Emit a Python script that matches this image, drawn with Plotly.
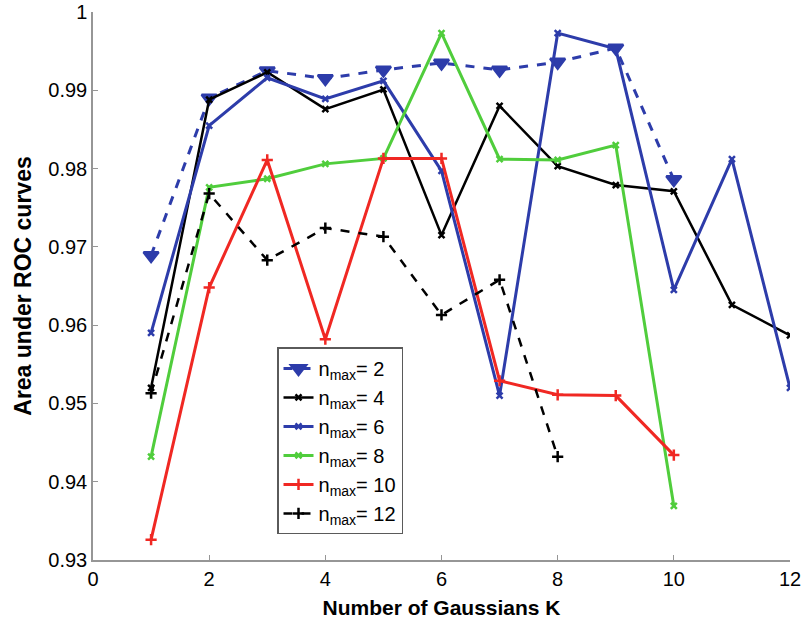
import plotly.graph_objects as go

# Area under ROC curves vs number of Gaussians K, for each n_max
k_short = [1, 2, 3, 4, 5, 6, 7, 8, 9, 10]
k_long = [1, 2, 3, 4, 5, 6, 7, 8, 9, 10, 11, 12]
k_eight = [1, 2, 3, 4, 5, 6, 7, 8]

auc_n2 = [0.9689, 0.9890, 0.9925, 0.9915, 0.9926, 0.9935, 0.9926, 0.9936, 0.9954, 0.9786]
auc_n4 = [0.9520, 0.9888, 0.9923, 0.9876, 0.9901, 0.9715, 0.9880, 0.9803, 0.9779, 0.9771, 0.9626, 0.9587]
auc_n6 = [0.9590, 0.9855, 0.9916, 0.9889, 0.9912, 0.9797, 0.9510, 0.9973, 0.9953, 0.9645, 0.9812, 0.9520]
auc_n8 = [0.9432, 0.9776, 0.9787, 0.9806, 0.9813, 0.9973, 0.9812, 0.9811, 0.9830, 0.9369]
auc_n10 = [0.9326, 0.9648, 0.9811, 0.9582, 0.9813, 0.9813, 0.9529, 0.9511, 0.9510, 0.9434]
auc_n12 = [0.9513, 0.9768, 0.9683, 0.9724, 0.9713, 0.9613, 0.9658, 0.9432]

x_ticks = [0, 2, 4, 6, 8, 10, 12]
y_ticks = [0.93, 0.94, 0.95, 0.96, 0.97, 0.98, 0.99, 1.0]
y_tick_text = ["0.93", "0.94", "0.95", "0.96", "0.97", "0.98", "0.99", "1"]

BLUE = "rgb(45,60,170)"
GREEN = "rgb(80,205,60)"
RED = "rgb(240,40,35)"
BLACK = "rgb(0,0,0)"

series = [
    ("n<sub>max</sub>= 2", k_short, auc_n2, BLUE, "dash", 3, "triangle-down", 13),
    ("n<sub>max</sub>= 4", k_long, auc_n4, BLACK, "solid", 2.5, "x-thin-open", 6),
    ("n<sub>max</sub>= 6", k_long, auc_n6, BLUE, "solid", 3, "x-thin-open", 6),
    ("n<sub>max</sub>= 8", k_short, auc_n8, GREEN, "solid", 3, "x-thin-open", 6),
    ("n<sub>max</sub>= 10", k_short, auc_n10, RED, "solid", 3, "cross-thin-open", 8),
    ("n<sub>max</sub>= 12", k_eight, auc_n12, BLACK, "dash", 2.5, "cross-thin-open", 8),
]

fig = go.Figure()
for name, xs, ys, color, dash, width, symbol, size in series:
    fig.add_trace(go.Scatter(
        x=xs, y=ys, name=name, mode="lines+markers",
        line=dict(color=color, width=width, dash=dash),
        marker=dict(symbol=symbol, size=size, color=color,
                    line=dict(color=color, width=2.5)),
    ))

axis_common = dict(
    showgrid=False, zeroline=False, showline=True, automargin=False,
    linecolor="rgb(150,150,150)", linewidth=1.5,
    ticks="inside", ticklen=5, tickcolor="rgb(150,150,150)",
    tickfont=dict(family="Liberation Sans, Arial", size=20, color="black"),
    mirror=False,
)

fig.update_layout(
    width=803, height=619,
    margin=dict(l=93, r=13, t=12, b=59),
    paper_bgcolor="white", plot_bgcolor="white",
    font=dict(family="Liberation Sans, Arial", color="black"),
    xaxis=dict(
        range=[0, 12], tickvals=x_ticks,
        title=dict(text="<b>Number of Gaussians K</b>", font=dict(size=21), standoff=12),
        **axis_common,
    ),
    yaxis=dict(
        range=[0.93, 1.0], tickvals=y_ticks, ticktext=y_tick_text,
        title=dict(text="<b>Area under ROC curves</b>", font=dict(size=23), standoff=10),
        **axis_common,
    ),
    legend=dict(
        x=0.264, y=0.388, xanchor="left", yanchor="top",
        bgcolor="white", bordercolor="rgb(90,90,90)", borderwidth=1.5,
        font=dict(family="Liberation Sans, Arial", size=20, color="black"),
        itemwidth=30, tracegroupgap=0,
    ),
)

fig.write_html("out.html")
